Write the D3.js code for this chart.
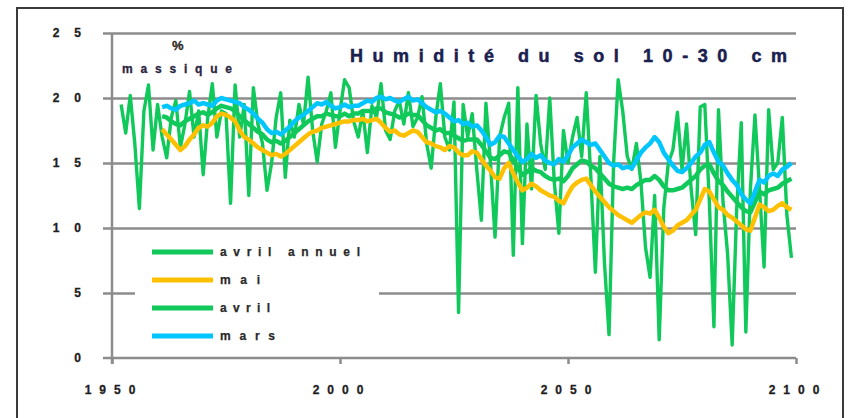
<!DOCTYPE html>
<html>
<head>
<meta charset="utf-8">
<script src="https://cdn.jsdelivr.net/npm/d3@7"></script>
<style>
    body { margin: 0; background: #fff; }
    svg { display: block; }
    text { font-family: "Liberation Sans", Arial, sans-serif; font-weight: bold; }
</style>
</head>
<body>
<div id="chart"></div>
<script>
// Data
const yearsAnnual = d3.range(1952, 2100);
const avrilAnnuel = [
    19.5, 17.3, 20.2, 16.5, 11.5, 19.0, 21.0, 16.0, 19.5,
    17.0, 15.4, 18.5, 19.8, 16.2, 18.0, 20.5, 17.0, 19.0, 14.1,
    18.5, 21.1, 17.0, 19.0, 18.8, 11.9, 21.0, 17.0, 19.5, 12.5,
    20.8, 18.0, 16.5, 12.9, 15.0, 18.5, 20.4, 13.9, 18.3, 17.0,
    19.5, 18.0, 21.6, 17.5, 15.1, 18.0, 19.0, 20.4, 16.2, 19.0,
    21.4, 20.8, 18.2, 17.0, 19.0, 15.8, 19.4, 18.5, 21.1, 17.5,
    16.8, 19.0, 19.8, 18.0, 20.4, 17.8, 18.5, 20.1, 16.5, 14.6,
    18.5, 21.1, 17.0, 16.0, 19.7, 3.5, 19.5, 17.0, 18.8, 14.5,
    10.6, 19.6, 15.0, 9.3, 17.0, 18.5, 19.6, 7.9, 20.8, 8.8,
    18.0, 13.0, 20.2, 16.5, 14.5, 20.0, 13.5, 9.6, 17.5, 15.0,
    17.0, 18.5, 15.5, 20.4, 14.0, 6.6, 15.5, 7.3, 1.8, 15.0,
    21.4, 19.0, 15.5, 14.5, 16.5, 13.5, 8.5, 6.2, 12.5, 1.4,
    11.5, 15.0, 16.0, 18.9, 14.5, 18.0, 13.0, 9.5, 19.3, 19.5,
    12.0, 2.4, 19.1, 12.0, 8.0, 1.0, 11.5, 18.1, 2.0, 13.0,
    18.7, 13.0, 7.0, 19.1, 14.5, 15.0, 18.5, 11.0, 7.7
];

const yearsSmooth = d3.range(1961, 2100);
const mai = [
    17.6, 17.2, 16.8, 16.4, 16.0, 16.3, 16.8, 17.2, 17.7, 17.9,
    17.8, 18.1, 18.6, 18.8, 18.7, 18.5, 18.2, 17.5, 17.0, 16.8,
    16.5, 16.2, 16.0, 15.8, 15.6, 15.7, 15.5, 15.7, 16.0, 16.3,
    16.6, 16.9, 17.2, 17.4, 17.5, 17.7, 17.8, 17.9, 18.0, 18.1,
    18.2, 18.2, 18.3, 18.3, 18.4, 18.2, 18.3, 18.4, 18.1, 17.7,
    17.4, 17.5, 17.2, 17.1, 17.3, 17.5, 17.4, 17.0, 16.6, 16.5,
    16.3, 16.2, 16.0, 16.3, 16.2, 15.8, 15.6, 15.6, 15.9, 15.8,
    15.3, 14.8, 14.4, 13.9, 13.8, 14.6, 15.0, 14.2, 13.5, 12.9,
    13.1, 13.4, 13.2, 12.9, 12.7, 12.5, 12.4, 12.1, 11.9, 12.6,
    13.2, 13.5, 13.7, 13.8, 13.3, 12.8, 12.4, 12.0, 11.6, 11.3,
    11.0, 10.8, 10.6, 10.4, 10.7, 11.0, 11.2, 11.1, 11.4, 10.8,
    10.1, 9.6, 9.8, 10.2, 10.4, 10.6, 11.0, 11.4, 12.2, 13.0,
    12.8, 12.2, 11.6, 11.4, 11.0, 10.8, 10.5, 10.2, 9.9, 9.8,
    10.8, 11.8, 11.6, 11.3, 11.4, 11.7, 11.9, 11.6, 11.4
];
const avril = [
    18.6, 18.5, 18.2, 18.0, 17.9, 18.2, 18.4, 18.6, 18.8, 18.9,
    18.7, 18.9, 19.2, 19.4, 19.3, 19.2, 19.0, 18.6, 18.3, 18.0,
    17.7, 17.4, 17.2, 16.8, 16.6, 16.7, 16.5, 16.7, 17.0, 17.3,
    17.6, 17.9, 18.2, 18.4, 18.6, 18.6, 18.8, 18.7, 18.6, 18.6,
    18.8, 18.6, 18.8, 18.8, 19.0, 19.0, 19.0, 19.2, 19.2, 18.9,
    18.8, 18.7, 18.5, 18.6, 18.8, 18.7, 18.7, 18.3, 17.9, 17.7,
    17.5, 17.6, 17.3, 17.3, 17.1, 16.9, 16.7, 16.8, 16.8, 16.8,
    16.4, 15.9, 15.4, 15.3, 15.6, 15.9, 15.8, 15.2, 14.6, 14.1,
    14.3, 14.6, 14.4, 14.3, 14.0, 13.8, 13.7, 13.8, 13.6, 14.0,
    14.6, 14.9, 15.2, 15.1, 14.8, 14.6, 14.2, 13.8, 13.4, 13.2,
    13.1, 13.0, 13.1, 13.0, 13.3, 13.5, 13.7, 13.7, 14.0, 13.7,
    13.2, 12.9, 12.9, 13.0, 13.1, 13.4, 13.7, 14.0, 14.5, 14.8,
    14.9, 14.2, 13.6, 13.3, 12.8, 12.4, 12.0, 11.6, 11.3, 11.2,
    12.0, 12.8, 12.6, 12.9, 13.0, 13.1, 13.4, 13.6, 13.8
];
const mars = [
    19.3, 19.4, 19.2, 19.1, 19.4, 19.5, 19.6, 19.8, 19.5, 19.6,
    19.5, 19.4, 19.8, 20.0, 19.9, 19.8, 19.7, 19.6, 19.3, 19.1,
    18.8, 18.4, 18.1, 17.6, 17.3, 17.4, 17.2, 17.5, 17.8, 18.2,
    18.5, 18.7, 19.0, 19.3, 19.6, 19.5, 19.7, 19.4, 19.2, 19.3,
    19.5, 19.3, 19.4, 19.4, 19.6, 19.8, 19.7, 20.0, 20.1, 19.9,
    20.0, 19.8, 19.7, 19.9, 20.1, 19.8, 19.9, 19.6, 19.3, 19.1,
    18.9, 19.0, 18.8, 18.5, 18.2, 18.3, 18.0, 18.1, 17.8, 17.9,
    17.5, 17.0, 16.4, 16.6, 17.1, 17.0, 16.5, 16.0, 15.5, 15.1,
    15.3, 15.7, 15.4, 15.6, 15.2, 15.0, 14.9, 15.3, 15.1, 15.6,
    16.2, 16.5, 16.8, 16.6, 16.4, 16.5, 16.0, 15.5, 15.0, 14.8,
    14.9, 14.6, 14.7, 14.6, 15.2, 15.8, 16.2, 16.5, 17.0, 16.6,
    15.8, 15.3, 14.8, 14.4, 14.3, 14.6, 15.0, 15.5, 15.8, 16.4,
    16.6, 15.8, 15.1, 14.8, 14.2, 13.7, 13.3, 12.6, 12.2, 11.9,
    12.8, 13.7, 13.5, 14.0, 14.2, 14.0, 14.5, 14.7, 15.0
];

const legendLabels = ['avril annuel', 'mai', 'avril', 'mars'];
const yTicks = [0, 5, 10, 15, 20, 25];
const xTicks = [1950, 2000, 2050, 2100];
const titleText = 'Humidité du sol 10-30 cm';
const unitTop = '%';
const unitBottom = 'massique';

// Chart configuration
const config = {
    width: 848,
    height: 418,
    colors: ['#10c95a', '#ffc000', '#10c95a', '#00c6ff'],
    widths: [3.4, 4.5, 4.5, 4.5],
    grid: '#8c8c8c',
    labelWidths: [140, 40, 50, 55]
};

const svg = d3.select('#chart')
    .append('svg')
    .attr('width', config.width)
    .attr('height', config.height);

// Outer frame
svg.append('rect')
    .attr('x', 17).attr('y', 8)
    .attr('width', 826).attr('height', 430)
    .attr('fill', 'none')
    .attr('stroke', '#3a3a3a')
    .attr('stroke-width', 2);

const x = d3.scaleLinear().domain([1950, 2100]).range([112, 796]);
const y = d3.scaleLinear().domain([0, 25]).range([358, 33]);

// Gridlines (with the left tick stubs)
svg.append('g')
    .attr('transform', 'translate(796,0)')
    .call(d3.axisLeft(y).tickValues(yTicks.slice(1)).tickSize(796 - 103).tickFormat(''))
    .call(g => g.select('.domain').remove())
    .selectAll('line')
    .attr('stroke', config.grid)
    .attr('stroke-width', 2.5);

// Y tick labels
svg.append('g')
    .selectAll('text')
    .data(yTicks)
    .enter().append('text')
    .attr('x', 96)
    .attr('y', d => y(d) + 4)
    .attr('text-anchor', 'end')
    .attr('font-size', 12)
    .attr('letter-spacing', 15)
    .attr('fill', '#1e1e1e')
    .attr('stroke', '#1e1e1e')
    .attr('stroke-width', 0.3)
    .text(d => d);

// X axis
const xAxis = svg.append('g')
    .attr('transform', 'translate(0,358)')
    .call(d3.axisBottom(x).tickValues(xTicks).tickSize(6).tickFormat(''));
xAxis.select('.domain').attr('stroke', config.grid).attr('stroke-width', 2.5)
    .attr('d', 'M103,0H796');
xAxis.selectAll('line').attr('stroke', config.grid).attr('stroke-width', 2.5);

svg.append('g')
    .selectAll('text')
    .data(xTicks)
    .enter().append('text')
    .attr('x', d => x(d) + 2)
    .attr('y', 394)
    .attr('text-anchor', 'middle')
    .attr('font-size', 12)
    .attr('letter-spacing', 8)
    .attr('fill', '#1e1e1e')
    .attr('stroke', '#1e1e1e')
    .attr('stroke-width', 0.3)
    .text(d => d);

// Y axis line
svg.append('line')
    .attr('x1', 112).attr('x2', 112)
    .attr('y1', y(25)).attr('y2', 364)
    .attr('stroke', config.grid)
    .attr('stroke-width', 2.5);

// Series
const series = [
    { years: yearsAnnual, values: avrilAnnuel },
    { years: yearsSmooth, values: mai },
    { years: yearsSmooth, values: avril },
    { years: yearsSmooth, values: mars }
];

const line = d3.line()
    .x(d => x(d[0]))
    .y(d => y(d[1]));

series.forEach((s, i) => {
    svg.append('path')
        .datum(s.years.map((yr, j) => [yr, s.values[j]]))
        .attr('d', line)
        .attr('fill', 'none')
        .attr('stroke', config.colors[i])
        .attr('stroke-width', config.widths[i])
        .attr('stroke-linejoin', 'round');
});

// Legend
svg.append('rect')
    .attr('x', 135).attr('y', 238)
    .attr('width', 244).attr('height', 110)
    .attr('fill', '#fff');

const legend = svg.append('g')
    .selectAll('g')
    .data(legendLabels)
    .enter().append('g')
    .attr('transform', (d, i) => `translate(152,${252 + i * 28})`);

legend.append('line')
    .attr('x1', 0).attr('x2', 61)
    .attr('stroke', (d, i) => config.colors[i])
    .attr('stroke-width', 5);

legend.append('text')
    .attr('x', 68)
    .attr('y', 4)
    .attr('font-size', 12)
    .attr('fill', '#2a2a2a')
    .attr('stroke', '#2a2a2a')
    .attr('stroke-width', 0.25)
    .attr('textLength', (d, i) => config.labelWidths[i])
    .attr('lengthAdjust', 'spacing')
    .text(d => d);

// Title and unit
svg.append('text')
    .attr('x', 350)
    .attr('y', 62)
    .attr('font-size', 18)
    .attr('fill', '#1a2050')
    .attr('stroke', '#1a2050')
    .attr('stroke-width', 0.5)
    .attr('textLength', 437)
    .attr('lengthAdjust', 'spacing')
    .text(titleText);

svg.append('text')
    .attr('x', 172)
    .attr('y', 50)
    .attr('font-size', 13)
    .attr('fill', '#2a2418')
    .attr('stroke', '#2a2418')
    .attr('stroke-width', 0.3)
    .text(unitTop);

svg.append('text')
    .attr('x', 122)
    .attr('y', 73)
    .attr('font-size', 12)
    .attr('fill', '#2b2540')
    .attr('stroke', '#2b2540')
    .attr('stroke-width', 0.3)
    .attr('textLength', 110)
    .attr('lengthAdjust', 'spacing')
    .text(unitBottom);
</script>
</body>
</html>
